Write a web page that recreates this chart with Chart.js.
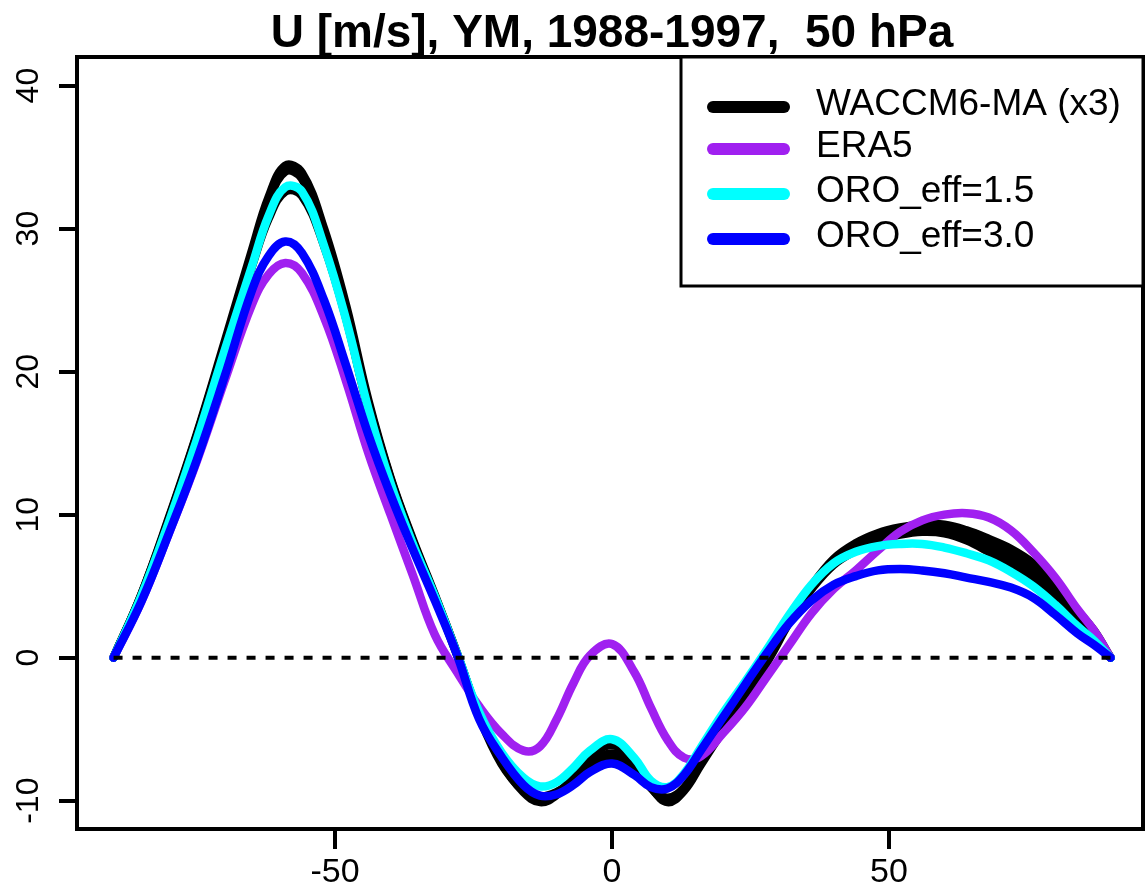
<!DOCTYPE html>
<html><head><meta charset="utf-8">
<script src="https://cdn.jsdelivr.net/npm/chart.js@4.4.1/dist/chart.umd.min.js"></script>
<style>html,body{margin:0;padding:0;background:#fff;} #wrap{width:1145px;height:888px;}</style>
</head><body><div id="wrap"><canvas id="c" width="1145" height="888"></canvas></div>
<script>
const lats = [-90,-85,-80,-75,-70,-65,-62,-59,-56,-52,-48,-44,-40,-36,-32,-28,-24,-20,-16,-13,-10,-7,-4,0,4,7,10,13,16,20,24,28,32,36,40,44,48,52,56,60,64,68,72,76,80,84,87,90];
const waccm1 = [0,4.4,9.8,15.6,22.0,28.5,32.2,34.4,33.9,30.0,24.6,18.0,12.6,8.3,4.4,0.3,-4.0,-7.3,-9.4,-10.1,-9.6,-8.3,-7.0,-6.1,-7.2,-9.0,-10.1,-9.3,-7.5,-5.1,-2.7,-0.3,2.5,5.0,6.9,8.0,8.7,9.1,9.3,9.3,8.9,8.3,7.6,6.6,5.1,3.3,1.9,0];
const waccm2 = [0,4.4,9.7,15.5,21.8,28.2,31.9,34.0,33.5,29.7,24.3,17.8,12.5,8.2,4.3,0.2,-4.1,-7.4,-9.3,-9.9,-9.5,-8.6,-7.5,-6.7,-7.6,-9.1,-10.0,-9.2,-7.3,-5.0,-2.5,0.0,2.6,4.9,6.7,7.8,8.5,8.9,9.0,8.9,8.5,7.9,7.1,6.0,4.6,2.9,1.6,0];
const waccm3 = [0,4.3,9.6,15.3,21.4,27.4,30.7,32.6,32.3,28.8,23.7,17.4,12.3,8.1,4.3,0.3,-4.0,-7.2,-9.1,-9.7,-9.4,-8.6,-7.8,-7.2,-7.9,-9.0,-9.8,-9.1,-7.2,-4.9,-2.4,0.1,2.6,4.8,6.5,7.5,8.2,8.6,8.8,8.7,8.2,7.4,6.5,5.5,4.2,2.7,1.5,0];
const era5 = [0,3.9,8.7,13.7,19.3,24.7,26.8,27.6,26.9,23.8,19.3,14.3,10.0,5.8,1.6,-1.0,-3.4,-5.3,-6.5,-6.2,-4.3,-1.8,0.15,0.95,-1.0,-3.5,-5.75,-7.0,-6.9,-5.3,-3.5,-1.3,0.9,3.1,4.8,6.1,7.5,8.8,9.6,10.0,10.1,9.8,8.9,7.4,5.6,3.4,1.9,0];
const oro15 = [0,4.3,9.5,15.2,21.4,27.4,30.9,32.9,32.6,28.8,23.6,17.4,12.2,8.0,4.3,0.3,-3.8,-6.6,-8.4,-9.0,-8.7,-7.7,-6.5,-5.7,-7.0,-8.6,-9.05,-8.1,-6.3,-3.9,-1.7,0.6,3.0,5.1,6.6,7.4,7.8,7.95,7.95,7.7,7.3,6.8,6.0,5.0,3.7,2.2,1.2,0];
const oro30 = [0,3.9,8.7,13.8,19.6,25.7,28.1,29.1,28.3,25.0,20.4,15.6,11.4,7.6,4.0,0.2,-4.3,-6.9,-8.9,-9.65,-9.55,-8.9,-8.0,-7.4,-8.2,-9.05,-9.15,-8.2,-6.5,-4.2,-1.9,0.35,2.4,4.0,5.1,5.7,6.1,6.2,6.1,5.9,5.6,5.3,4.9,4.2,3.0,1.7,0.9,0];
const zeroX = [-90, 90];
const zeroY = [0, 0];
const xTicks = [-50, 0, 50];
const yTicks = [-10, 0, 10, 20, 30, 40];
const titleText = 'U [m/s], YM, 1988-1997,  50 hPa';
const legendLabels = ['WACCM6-MA (x3)', 'ERA5', 'ORO_eff=1.5', 'ORO_eff=3.0'];
const legendColors = ['#000000', '#A020F0', '#00FFFF', '#0000FF'];

const FONT = "'Liberation Sans', Arial, Helvetica, sans-serif";
const mk = (arr) => lats.map((x, i) => ({x: x, y: arr[i]}));
const lineStyle = {borderWidth: 8.5, pointRadius: 0, pointHoverRadius: 0, fill: false,
  tension: 0.4, borderCapStyle: 'round', borderJoinStyle: 'round'};

const decor = {
  id: 'decor',
  afterDraw(chart) {
    const ctx = chart.ctx;
    const a = chart.chartArea;
    ctx.save();
    ctx.strokeStyle = '#000';
    ctx.lineWidth = 4;
    ctx.strokeRect(a.left, a.top, a.right - a.left, a.bottom - a.top);
    ctx.fillStyle = '#000';
    ctx.font = "bold 46px " + FONT;
    ctx.textAlign = 'center';
    ctx.textBaseline = 'middle';
    ctx.fillText(titleText, 612, 34);
    const lx = 681, ly = a.top, lw = a.right - 681, lh = 229;
    ctx.fillStyle = '#fff';
    ctx.fillRect(lx, ly, lw, lh);
    ctx.lineWidth = 3;
    ctx.strokeStyle = '#000';
    ctx.strokeRect(lx, ly, lw, lh);
    const rows = [107, 149, 194, 239];
    ctx.font = "37px " + FONT;
    ctx.textAlign = 'left';
    ctx.textBaseline = 'middle';
    for (let i = 0; i < legendLabels.length; i++) {
      ctx.beginPath();
      ctx.strokeStyle = legendColors[i];
      ctx.lineWidth = 12;
      ctx.lineCap = 'round';
      ctx.moveTo(713, rows[i]);
      ctx.lineTo(784, rows[i]);
      ctx.stroke();
      ctx.fillStyle = '#000';
      ctx.fillText(legendLabels[i], 816, rows[i] - 2);
    }
    ctx.restore();
  }
};

new Chart(document.getElementById('c'), {
  type: 'line',
  data: {
    datasets: [
      Object.assign({label: 'ORO_eff=3.0', data: mk(oro30), borderColor: legendColors[3], order: 1}, lineStyle),
      Object.assign({label: 'ORO_eff=1.5', data: mk(oro15), borderColor: legendColors[2], order: 2}, lineStyle),
      Object.assign({label: 'ERA5', data: mk(era5), borderColor: legendColors[1], order: 3}, lineStyle),
      Object.assign({label: 'WACCM6-MA (x3) #1', data: mk(waccm1), borderColor: '#000', order: 4}, lineStyle),
      Object.assign({label: 'WACCM6-MA (x3) #2', data: mk(waccm2), borderColor: '#000', order: 4}, lineStyle),
      Object.assign({label: 'WACCM6-MA (x3) #3', data: mk(waccm3), borderColor: '#000', order: 4}, lineStyle),
      {label: 'zero', data: zeroX.map((x, i) => ({x: x, y: zeroY[i]})), borderColor: '#000',
       borderWidth: 4, borderDash: [9, 10], pointRadius: 0, fill: false, tension: 0, order: 0}
    ]
  },
  options: {
    responsive: false,
    animation: false,
    devicePixelRatio: 1,
    layout: {padding: {top: 57, right: 2, bottom: 0, left: 0}},
    plugins: {legend: {display: false}, title: {display: false}, tooltip: {enabled: false}},
    events: [],
    scales: {
      x: {
        type: 'linear', min: -96.6, max: 95.85,
        afterBuildTicks: s => { s.ticks = xTicks.map(v => ({value: v})); },
        afterFit: s => { s.height = 59; },
        grid: {display: true, drawOnChartArea: false, drawTicks: true, tickLength: 20, color: '#000', lineWidth: 4},
        border: {display: false},
        ticks: {color: '#000', font: {family: FONT, size: 34}, padding: 3, maxRotation: 0, minRotation: 0,
                autoSkip: false, callback: v => String(v)}
      },
      y: {
        type: 'linear', min: -11.98, max: 42.0,
        afterBuildTicks: s => { s.ticks = yTicks.map(v => ({value: v})); },
        afterFit: s => { s.width = 77; },
        grid: {display: true, drawOnChartArea: false, drawTicks: true, tickLength: 18, color: '#000', lineWidth: 4},
        border: {display: false},
        ticks: {color: '#000', font: {family: FONT, size: 32}, padding: 7, minRotation: 90, maxRotation: 90,
                crossAlign: 'center', autoSkip: false, callback: v => String(v)}
      }
    }
  },
  plugins: [decor]
});
</script>
</body></html>
